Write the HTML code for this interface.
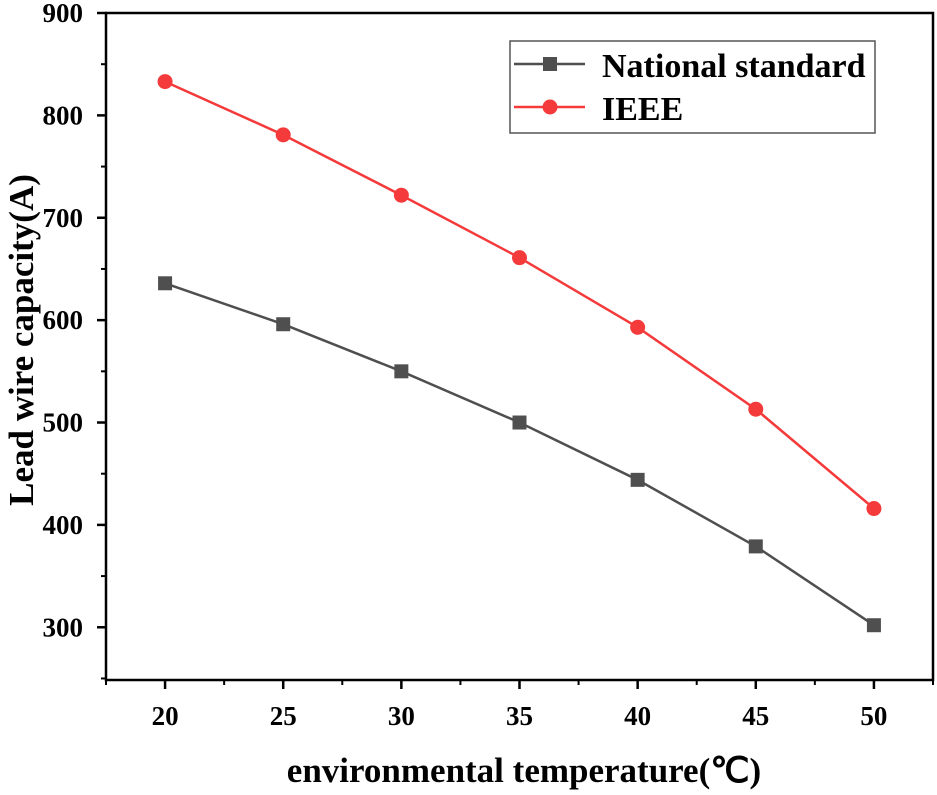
<!DOCTYPE html>
<html><head><meta charset="utf-8"><style>
body{margin:0;background:#fff}
text{font-family:"Liberation Serif",serif;font-weight:bold;fill:#000}
</style></head><body>
<svg id="chart" width="937" height="790" xmlns="http://www.w3.org/2000/svg"></svg>
<script>
const categories=[20,25,30,35,40,45,50];
const nationalValues=[636,596,550,500,444,379,302];
const ieeeValues=[833,781,722,661,593,513,416];
const yTicks=[300,400,500,600,700,800,900];
const xTicks=[20,25,30,35,40,45,50];
const NS='http://www.w3.org/2000/svg';
const svg=document.getElementById('chart');
const L=106,R=933,T=13,B=680;
const xMin=17.5,xMax=52.5,yMin=248.5,yMax=900;
const xs=v=>L+(v-xMin)/(xMax-xMin)*(R-L);
const ys=v=>B-(v-yMin)/(yMax-yMin)*(B-T);
function mk(tag,attrs,parent){const e=document.createElementNS(NS,tag);for(const k in attrs)e.setAttribute(k,attrs[k]);(parent||svg).appendChild(e);return e;}
const frame=mk('rect',{x:L,y:T,width:R-L,height:B-T,fill:'none',stroke:'#000','stroke-width':2.5});


yTicks.forEach(v=>{
 const t=mk('line',{x1:L-9,x2:L,y1:ys(v),y2:ys(v),stroke:'#000','stroke-width':2.5});
 
 
 const m=mk('line',{x1:L-5,x2:L,y1:ys(v-50),y2:ys(v-50),stroke:'#000','stroke-width':2});
 
 
 const lb=mk('text',{x:L-23,y:ys(v)+9,'text-anchor':'end','font-size':27});
 lb.textContent=v;
 
 
});
xTicks.forEach(v=>{
 const t=mk('line',{x1:xs(v),x2:xs(v),y1:B,y2:B+9,stroke:'#000','stroke-width':2.5});
 
 
 const lb=mk('text',{x:xs(v),y:B+45,'text-anchor':'middle','font-size':27});
 lb.textContent=v;
 
 
});
for(let v=17.5;v<=52.5;v+=5){
 const m=mk('line',{x1:xs(v),x2:xs(v),y1:B,y2:B+5,stroke:'#000','stroke-width':2});
 
 
}
const xt=mk('text',{x:524,y:782,'text-anchor':'middle','font-size':35});
xt.textContent='environmental temperature(℃)';


const yt=mk('text',{x:0,y:0,'text-anchor':'middle','font-size':35,transform:'translate(33,340) rotate(-90)'});
yt.textContent='Lead wire capacity(A)';


function series(vals,color,shape,name){
 const pl=mk('polyline',{points:vals.map((v,i)=>xs(categories[i])+','+ys(v)).join(' '),fill:'none',stroke:color,'stroke-width':2.5});
 
 
 vals.forEach((v,i)=>{
  let m;
  if(shape==='sq')m=mk('rect',{x:xs(categories[i])-7,y:ys(v)-7,width:14,height:14,fill:color});
  else m=mk('circle',{cx:xs(categories[i]),cy:ys(v),r:7.5,fill:color});
  
  
 });
}
series(nationalValues,'#4f4f4f','sq','national-standard');
series(ieeeValues,'#f43a3a','ci','ieee');
const lg=mk('g',{});


mk('rect',{x:510,y:41,width:365,height:92,fill:'#fff',stroke:'#555','stroke-width':1.5},lg);
const e1=mk('g',{},lg);


mk('line',{x1:514,x2:585,y1:64,y2:64,stroke:'#4f4f4f','stroke-width':2.5},e1);
mk('rect',{x:543,y:57,width:14,height:14,fill:'#4f4f4f'},e1);
const t1=mk('text',{x:602,y:77,'font-size':34},e1);t1.textContent='National standard';
const e2=mk('g',{},lg);


mk('line',{x1:514,x2:585,y1:107,y2:107,stroke:'#f43a3a','stroke-width':2.5},e2);
mk('circle',{cx:550,cy:107,r:7.5,fill:'#f43a3a'},e2);
const t2=mk('text',{x:602,y:120,'font-size':34},e2);t2.textContent='IEEE';
</script>
</body></html>
